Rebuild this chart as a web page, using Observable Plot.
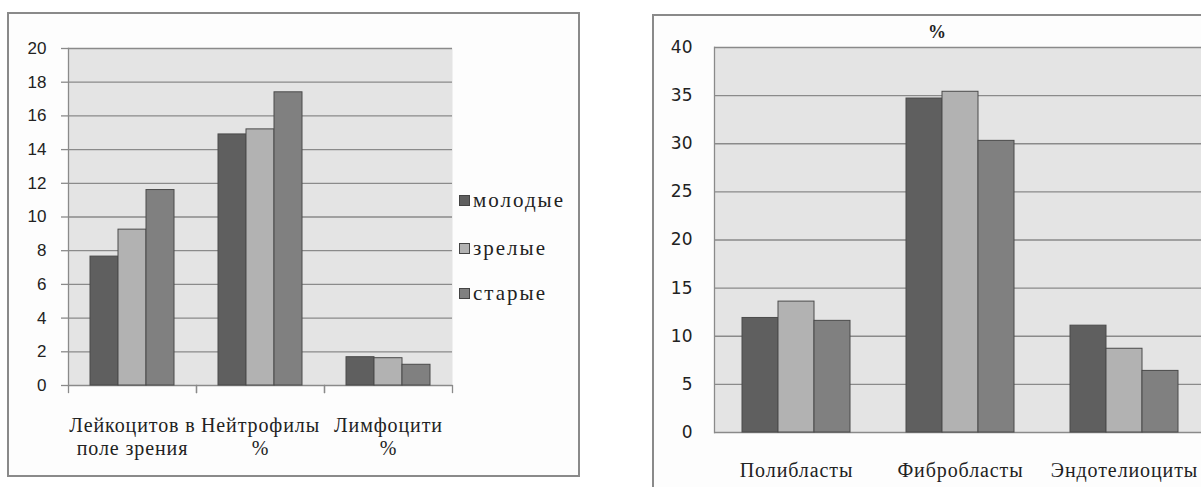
<!DOCTYPE html>
<html><head><meta charset="utf-8">
<script src="https://cdn.jsdelivr.net/npm/d3@7"></script>
<script src="https://cdn.jsdelivr.net/npm/@observablehq/plot@0.6"></script>
<style>
html,body{margin:0;padding:0;background:#fff;width:1201px;height:487px;overflow:hidden;position:relative}
.box{position:absolute;border:2px solid #8a8a8a;background:#fdfdfd;box-sizing:border-box}
.chart{position:absolute;top:0}
.legend{position:absolute;left:459px;top:0;font-family:"Liberation Serif","Times New Roman",serif;font-size:21px;letter-spacing:2px;color:#222;line-height:1}
.legend .item{position:absolute;white-space:nowrap;display:flex;align-items:center}
.legend .sw{width:9px;height:9px;border:1px solid #444;margin-right:3px;display:inline-block}
.title{position:absolute;left:928px;top:22px;font-family:"Liberation Serif",serif;font-weight:bold;font-size:18px;color:#222}
g[aria-label="fx-axis tick label"] text{font-family:"Liberation Serif",serif;letter-spacing:0.9px}
</style></head><body>
<div class="box" style="left:7px;top:12px;width:573px;height:465px"></div>
<div class="box" style="left:652px;top:14px;width:600px;height:520px"></div>
<div id="left" class="chart" style="left:0;width:600px"></div>
<div id="right" class="chart" style="left:600px;width:620px"></div>
<div class="legend" id="legend"></div>
<div class="title" id="title"></div>
<script>
// ---- data ----
const series = ["молодые", "зрелые", "старые"];
const seriesColors = ["#5f5f5f", "#b2b2b2", "#808080"];

const leftCategories = ["Лейкоцитов в\nполе зрения", "Нейтрофилы\n%", "Лимфоцити\n%"];
const leftYoung  = [7.65, 14.9, 1.68];
const leftMature = [9.25, 15.2, 1.62];
const leftOld    = [11.6, 17.4, 1.23];
const leftYTicks = [0, 2, 4, 6, 8, 10, 12, 14, 16, 18, 20];

const rightTitle = "%";
const rightCategories = ["Полибласты", "Фибробласты", "Эндотелиоциты"];
const rightYoung  = [11.9, 34.7, 11.1];
const rightMature = [13.6, 35.4, 8.7];
const rightOld    = [11.6, 30.3, 6.4];
const rightYTicks = [0, 5, 10, 15, 20, 25, 30, 35, 40];

// ---- styles ----
const gridColor = "#8a8a8a";
const plotBg = "#e4e4e4";

function rowsOf(cats, cols) {
  const rows = [];
  cats.forEach((c, i) => series.forEach((s, j) => rows.push({cat: c, series: s, value: cols[j][i]})));
  return rows;
}

function chart(o) {
  const plotH = o.height - o.marginTop - o.marginBottom;
  const marks = [
    Plot.frame({fill: plotBg, stroke: null, facet: "super"}),
    Plot.gridY(o.yTicks, {stroke: gridColor, strokeOpacity: 1, strokeWidth: 1.3}),
    Plot.axisY(o.yTicks, {tickSize: o.tickSize, tickPadding: o.tickPadding, stroke: gridColor, strokeWidth: 1.3,
      fontSize: o.yFontSize, fontFamily: o.yFont, fill: "#222", label: null}),
    Plot.frame({anchor: "left", facet: "super", stroke: gridColor, strokeWidth: 1.3}),
    Plot.barY(o.rows, {fx: "cat", x: "series", y: "value", fill: "series", stroke: "#4a4a4a", strokeWidth: 1, inset: 0}),
    Plot.axisFx({anchor: "bottom", tickSize: 0, tickPadding: o.labelPad, fontSize: 20, lineHeight: 1.15,
      fontFamily: "Liberation Serif", fill: "#222", label: null})
  ];
  if (o.boundaryTicks) {
    marks.push(Plot.frame({anchor: "left", insetTop: plotH, insetBottom: -o.boundaryTicks, stroke: gridColor, strokeWidth: 1.3}));
    marks.push(Plot.frame({anchor: "right", insetTop: plotH, insetBottom: -o.boundaryTicks, stroke: gridColor, strokeWidth: 1.3}));
  }
  return Plot.plot({
    width: o.width, height: o.height,
    marginLeft: o.marginLeft, marginRight: o.marginRight, marginTop: o.marginTop, marginBottom: o.marginBottom,
    style: {background: "transparent", overflow: "visible"},
    fx: {domain: o.cats, padding: 0, label: null},
    x: {domain: series, axis: null, paddingInner: 0, paddingOuter: o.padOuter},
    y: {domain: o.yDomain, axis: null, label: null},
    color: {domain: series, range: seriesColors},
    marks
  });
}

document.getElementById("left").append(chart({
  rows: rowsOf(leftCategories, [leftYoung, leftMature, leftOld]), cats: leftCategories,
  width: 600, height: 487, marginLeft: 67, marginRight: 147, marginTop: 48, marginBottom: 102,
  padOuter: 0.72, yDomain: [0, 20], yTicks: leftYTicks, tickSize: 7, tickPadding: 15,
  yFontSize: 17, yFont: "Liberation Sans", labelPad: 30, boundaryTicks: 7
}));

document.getElementById("right").append(chart({
  rows: rowsOf(rightCategories, [rightYoung, rightMature, rightOld]), cats: rightCategories,
  width: 620, height: 487, marginLeft: 113, marginRight: 13.5, marginTop: 47, marginBottom: 55,
  padOuter: 0.766, yDomain: [0, 40], yTicks: rightYTicks, tickSize: 0, tickPadding: 22,
  yFontSize: 17, yFont: "DejaVu Sans", labelPad: 28, boundaryTicks: 0
}));

const legend = document.getElementById("legend");
const legendTops = [200, 248, 293];
series.forEach((s, i) => {
  const it = document.createElement("div");
  it.className = "item";
  it.style.top = (legendTops[i] - 10) + "px";
  const sw = document.createElement("span");
  sw.className = "sw"; sw.style.background = seriesColors[i];
  it.append(sw, document.createTextNode(s));
  legend.append(it);
});
document.getElementById("title").textContent = rightTitle;
</script>
</body></html>
